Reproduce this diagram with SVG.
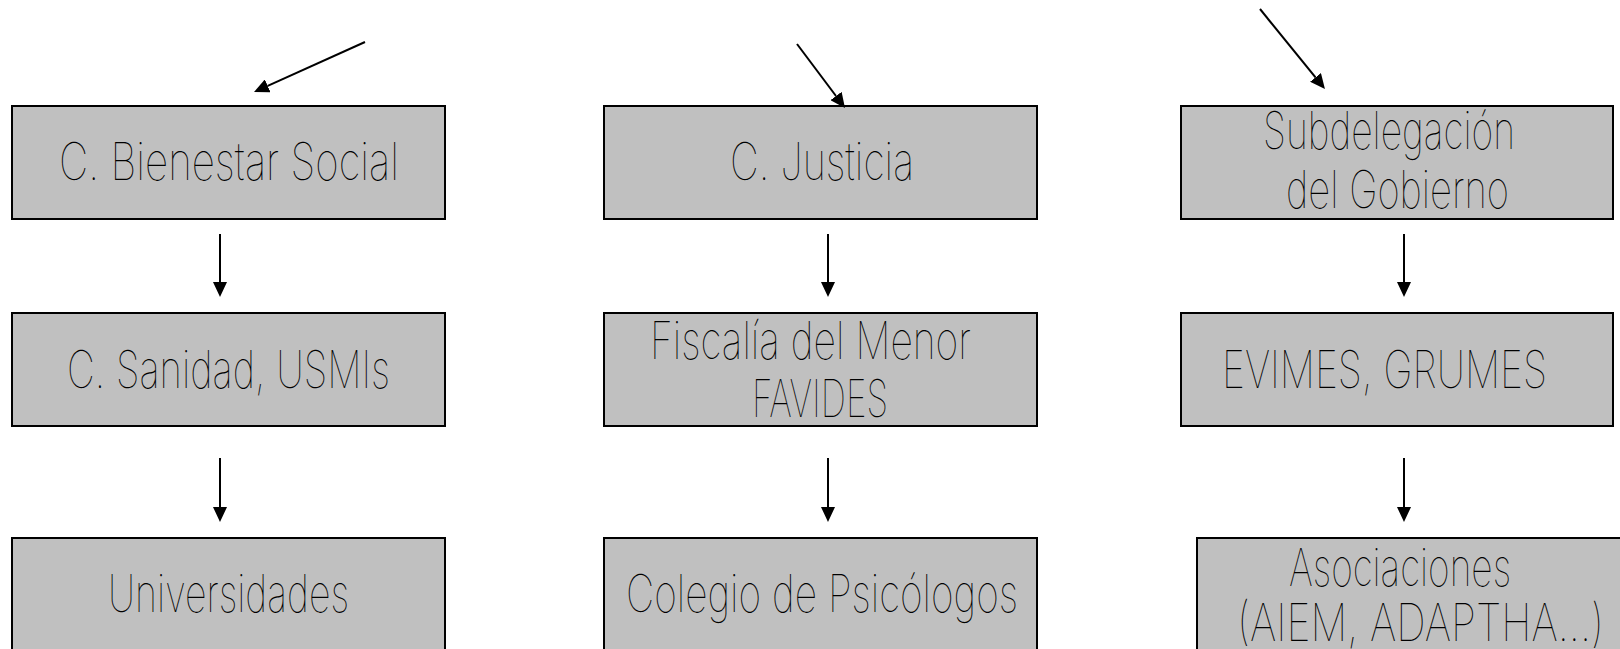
<svg xmlns="http://www.w3.org/2000/svg" width="1620" height="649" viewBox="0 0 1620 649">
<defs>
<style>
.box{fill:#C0C0C0;stroke:#000;stroke-width:2}
.t{font-family:Inter,"DejaVu Sans",sans-serif;font-weight:100;font-size:52px;fill:#000}
.c{stroke:#000;stroke-width:2;fill:none}
</style>
<marker id="ah" markerUnits="userSpaceOnUse" markerWidth="15" markerHeight="14" refX="0" refY="7" orient="auto" viewBox="0 0 15 14">
<path d="M0,0 L15,7 L0,14 z" fill="#000"/>
</marker>
</defs>
<rect width="1620" height="649" fill="#fff"/>
<g id="n-bienestar">
<rect class="box" x="12" y="106" width="433" height="113"/>
<text class="t" x="59" y="180" textLength="340" lengthAdjust="spacingAndGlyphs">C. Bienestar Social</text>
</g>
<g id="n-sanidad">
<rect class="box" x="12" y="313" width="433" height="113"/>
<text class="t" x="67" y="388" textLength="323" lengthAdjust="spacingAndGlyphs">C. Sanidad, USMIs</text>
</g>
<g id="n-universidades">
<rect class="box" x="12" y="538" width="433" height="130"/>
<text class="t" x="108" y="612" textLength="241" lengthAdjust="spacingAndGlyphs">Universidades</text>
</g>
<g id="n-justicia">
<rect class="box" x="604" y="106" width="433" height="113"/>
<text class="t" x="730" y="180" textLength="184" lengthAdjust="spacingAndGlyphs">C. Justicia</text>
</g>
<g id="n-fiscalia">
<rect class="box" x="604" y="313" width="433" height="113"/>
<text class="t" x="650" y="359" textLength="321" lengthAdjust="spacingAndGlyphs">Fiscalía del Menor</text>
<text class="t" x="752" y="417" textLength="136" lengthAdjust="spacingAndGlyphs">FAVIDES</text>
</g>
<g id="n-colegio">
<rect class="box" x="604" y="538" width="433" height="130"/>
<text class="t" x="626" y="612" textLength="392" lengthAdjust="spacingAndGlyphs">Colegio de Psicólogos</text>
</g>
<g id="n-subdelegacion">
<rect class="box" x="1181" y="106" width="432" height="113"/>
<text class="t" x="1263" y="149" textLength="252" lengthAdjust="spacingAndGlyphs">Subdelegación</text>
<text class="t" x="1286" y="208" textLength="223" lengthAdjust="spacingAndGlyphs">del Gobierno</text>
</g>
<g id="n-evimes">
<rect class="box" x="1181" y="313" width="432" height="113"/>
<text class="t" x="1222" y="388" textLength="325" lengthAdjust="spacingAndGlyphs">EVIMES, GRUMES</text>
</g>
<g id="n-asociaciones">
<rect class="box" x="1197" y="538" width="440" height="130"/>
<text class="t" x="1289" y="586" textLength="222" lengthAdjust="spacingAndGlyphs">Asociaciones</text>
<text class="t" x="1237" y="641" textLength="367" lengthAdjust="spacingAndGlyphs">(AIEM, ADAPTHA...)</text>
</g>
<g id="connectors">
<line class="c" x1="365" y1="42" x2="267.7" y2="85.8" marker-end="url(#ah)"/>
<line class="c" x1="797" y1="44" x2="836" y2="96" marker-end="url(#ah)"/>
<line class="c" x1="1260" y1="9" x2="1315.5" y2="77.4" marker-end="url(#ah)"/>
<line class="c" x1="220" y1="234" x2="220" y2="282" marker-end="url(#ah)"/>
<line class="c" x1="220" y1="458" x2="220" y2="507" marker-end="url(#ah)"/>
<line class="c" x1="828" y1="234" x2="828" y2="282" marker-end="url(#ah)"/>
<line class="c" x1="828" y1="458" x2="828" y2="507" marker-end="url(#ah)"/>
<line class="c" x1="1404" y1="234" x2="1404" y2="282" marker-end="url(#ah)"/>
<line class="c" x1="1404" y1="458" x2="1404" y2="507" marker-end="url(#ah)"/>
</g>
</svg>
